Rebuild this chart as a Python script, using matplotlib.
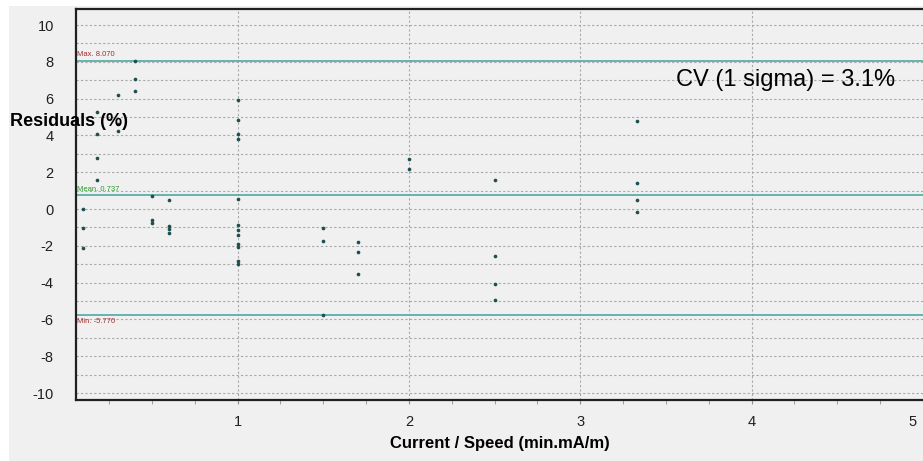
import matplotlib.pyplot as plt
import matplotlib.transforms as mtransforms
import numpy as np

plt.rcParams['font.family'] = ['Liberation Sans', 'DejaVu Sans']
plt.rcParams['axes.unicode_minus'] = False

# residual points, grouped by current/speed value
x_vals = ([0.10] * 3 + [0.18] * 4 + [0.30] * 3 + [0.40] * 3 + [0.50] * 3
          + [0.60] * 4 + [1.00] * 12 + [1.50] * 3 + [1.70] * 3 + [2.00] * 2
          + [2.50] * 4 + [3.33] * 4)
residuals = ([0.0, -1.04, -2.1]
             + [5.28, 4.05, 2.78, 1.60]
             + [6.22, 4.61, 4.25]
             + [8.07, 7.04, 6.44]
             + [0.71, -0.58, -0.76]
             + [0.47, -0.94, -1.11, -1.29]
             + [5.90, 4.85, 4.05, 3.83, 0.57, -0.85, -1.16, -1.43, -1.88, -2.07, -2.83, -2.97]
             + [-1.05, -1.76, -5.77]
             + [-1.80, -2.36, -3.54]
             + [2.74, 2.16]
             + [1.60, -2.56, -4.10, -4.92]
             + [4.81, 1.44, 0.47, -0.14])

max_val = 8.070
mean_val = 0.737
min_val = -5.770
cv_text = "CV (1 sigma) = 3.1%"

bg = '#f0f0f0'
line_col = '#5aaeaa'

fig = plt.figure(figsize=(9.23, 4.61), dpi=100, facecolor='white')
# gray panel behind everything
fig.patches.append(plt.Rectangle((9 / 923, 0), 1, 1 - 6 / 461, transform=fig.transFigure,
                                 facecolor=bg, edgecolor='none', zorder=-10))
ax = fig.add_axes([76 / 923, 1 - 400 / 461, 1 - 76 / 923, (400 - 9) / 461])
ax.set_facecolor(bg)

ax.set_xlim(0.057, 4.99)
ax.set_ylim(-10.38, 10.87)

# grid
ax.set_yticks(np.arange(-10, 11, 2))
ax.set_yticks(np.arange(-9, 11, 2), minor=True)
ax.set_xticks([1, 2, 3, 4, 5])
ax.set_xticks([t for t in np.arange(0.25, 5, 0.25) if t % 1 != 0], minor=True)
ax.grid(True, which='major', axis='both', color='#a8a8a8', linestyle=(0, (2, 2)), linewidth=0.8)
ax.grid(True, which='minor', axis='y', color='#a8a8a8', linestyle=(0, (2, 2)), linewidth=0.8)

# reference lines
for val in (max_val, mean_val, min_val):
    ax.axhline(val, color=line_col, linewidth=1.3, zorder=2)
ax.text(0.065, max_val + 0.15, f"Max. {max_val:.3f}", color='#a03030', fontsize=5.5, va='bottom')
ax.text(0.065, mean_val + 0.15, f"Mean. {mean_val:.3f}", color='#2a9a2a', fontsize=5.5, va='bottom')
ax.text(0.065, min_val - 0.15, f"Min. {min_val:.3f}", color='#a03030', fontsize=5.5, va='top')

ax.scatter(x_vals, residuals, s=7, color='#1d4f4f', zorder=3, linewidths=0)

ax.text(0.967, 0.818, cv_text, transform=ax.transAxes, ha='right', va='center', fontsize=17)

for side in ('left', 'bottom', 'top'):
    ax.spines[side].set_color('#202020')
    ax.spines[side].set_linewidth(1.6)
ax.spines['right'].set_visible(False)

ax.tick_params(axis='y', which='both', length=0, labelsize=10.5, pad=16, colors='#202020')
ax.tick_params(axis='x', which='major', length=3, labelsize=10.5, pad=8, colors='#202020')
ax.tick_params(axis='x', which='minor', length=3, color='#909090')
ax.tick_params(axis='x', which='major', color='#909090')

# the last label sits inside the picture edge, as in the reference
fig.canvas.draw()
last = ax.get_xticklabels()[-1]
last.set_horizontalalignment('right')
last.set_transform(last.get_transform() + mtransforms.ScaledTranslation(-6 / 100, 0, fig.dpi_scale_trans))

fig.text(10 / 923, 1 - 121 / 461, "Residuals (%)", fontsize=13, fontweight='bold', va='center', ha='left')
fig.text(500 / 923, 1 - 443 / 461, "Current / Speed (min.mA/m)", fontsize=12, fontweight='bold',
         va='center', ha='center')

fig.savefig('out.png', dpi=100, facecolor=fig.get_facecolor())
